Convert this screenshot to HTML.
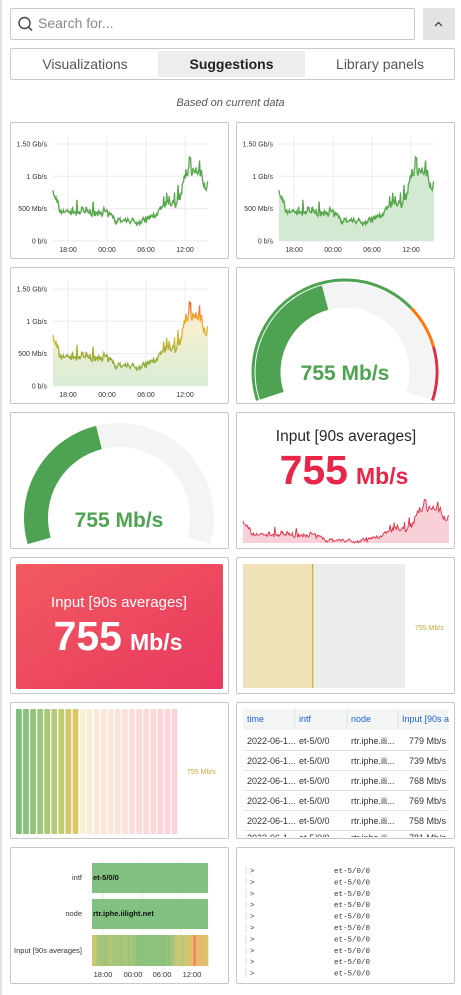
<!DOCTYPE html>
<html><head><meta charset="utf-8">
<style>
*{box-sizing:border-box;margin:0;padding:0}
body{width:461px;height:995px;background:#fff;font-family:"Liberation Sans",Arial,sans-serif;position:relative;overflow:hidden;color:#24292e}
.lb{position:absolute;left:0;top:0;width:2px;height:995px;background:#e4e4e4}
.abs{position:absolute}
.card{position:absolute;width:219px;height:137px;border:1px solid #c7c7c7;border-radius:2px;background:#fff;overflow:hidden}
svg{position:absolute;left:0;top:0}
</style></head><body>
<div class="lb"></div>
<div class="abs" style="left:10px;top:8px;width:405px;height:32px;border:1px solid #c9c9c9;border-radius:2px"></div>
<svg width="461" height="120" style="z-index:2">
<circle cx="24.5" cy="23" r="5.5" fill="none" stroke="#444" stroke-width="1.4"/><line x1="28.5" y1="27" x2="32" y2="30.5" stroke="#444" stroke-width="1.5"/>
<path d="M435 26 L438.5 22.5 L442 26" fill="none" stroke="#333" stroke-width="1.2"/>
</svg>
<div class="abs" style="left:38px;top:15px;font-size:14px;color:#888">Search for...</div>
<div class="abs" style="left:423px;top:8px;width:32px;height:32px;background:#e3e3e3;border-radius:2px"></div>
<div class="abs" style="left:10px;top:48px;width:445px;height:32px;border:1px solid #c9c9c9;border-radius:2px"></div>
<div class="abs" style="left:158px;top:51px;width:147px;height:26px;background:#ededed;border-radius:2px"></div>
<div class="abs" style="left:10px;top:56px;width:150px;text-align:center;font-size:14px;color:#555">Visualizations</div>
<div class="abs" style="left:158px;top:56px;width:147px;text-align:center;font-size:14px;font-weight:bold;color:#222">Suggestions</div>
<div class="abs" style="left:305px;top:56px;width:150px;text-align:center;font-size:14px;color:#555">Library panels</div>
<div class="abs" style="left:0;top:97px;width:461px;text-align:center;font-size:11px;font-style:italic;color:#555">Based on current data</div>

<div class="card" style="left:10px;top:122px"></div>
<div class="card" style="left:236px;top:122px"></div>
<div class="card" style="left:10px;top:267px"></div>
<div class="card" style="left:236px;top:267px"></div>
<div class="card" style="left:10px;top:412px"></div>
<div class="card" style="left:236px;top:412px"></div>
<div class="card" style="left:10px;top:557px"></div>
<div class="card" style="left:236px;top:557px"></div>
<div class="card" style="left:10px;top:702px"></div>
<div class="card" style="left:236px;top:702px"></div>
<div class="card" style="left:10px;top:847px"></div>
<div class="card" style="left:236px;top:847px"></div>

<svg id="g" width="461" height="995" font-family="Liberation Sans, Arial, sans-serif">
<defs>
<linearGradient id="hot" gradientUnits="userSpaceOnUse" x1="0" y1="386" x2="0" y2="289">
<stop offset="0" stop-color="#73bf69"/><stop offset="0.3" stop-color="#9bab35"/><stop offset="0.5" stop-color="#d0b72c"/><stop offset="0.68" stop-color="#f5a623"/><stop offset="0.85" stop-color="#f2642a"/><stop offset="1" stop-color="#e02f44"/></linearGradient>
<linearGradient id="hotf" gradientUnits="userSpaceOnUse" x1="0" y1="386" x2="0" y2="289">
<stop offset="0" stop-color="#d8ecd6"/><stop offset="0.6" stop-color="#f5f0d0"/><stop offset="1" stop-color="#fbe6d3"/></linearGradient>
<linearGradient id="red" x1="0" y1="0" x2="1" y2="1"><stop offset="0" stop-color="#f25a5f"/><stop offset="1" stop-color="#e8395f"/></linearGradient>
<clipPath id="tc"><rect x="237" y="703" width="217" height="134"/></clipPath>
</defs>
<g id="charts"></g>

<g id="gauge1"></g>
<text x="345" y="380" text-anchor="middle" font-size="21" font-weight="bold" fill="#4ea352">755 Mb/s</text>
<g id="gauge2"></g>
<text x="119" y="527" text-anchor="middle" font-size="21" font-weight="bold" fill="#4ea352">755 Mb/s</text>

<text x="346" y="441" text-anchor="middle" font-size="15.5" fill="#24292e">Input [90s averages]</text>
<text x="348" y="484" text-anchor="end" font-size="41" font-weight="bold" fill="#e8264a">755</text>
<text x="356" y="484" font-size="23" font-weight="bold" fill="#e8264a">Mb/s</text>

<rect x="16" y="564" width="207" height="125" rx="2" fill="url(#red)"/>
<text x="119" y="607" text-anchor="middle" font-size="15" fill="#fff">Input [90s averages]</text>
<text x="122" y="650" text-anchor="end" font-size="41" font-weight="bold" fill="#fff">755</text>
<text x="130" y="650" font-size="23" font-weight="bold" fill="#fff">Mb/s</text>

<rect x="243" y="564" width="70" height="124" fill="#efe2b8"/>
<rect x="313" y="564" width="92" height="124" fill="#ececec"/>
<rect x="312" y="564" width="1.3" height="124" fill="#d4b23a"/>
<text x="415" y="630" font-size="7" fill="#c9a93a">755 Mb/s</text>

<g id="lcd"></g>
<text x="187" y="774" font-size="7" fill="#c9a93a">755 Mb/s</text>

<g clip-path="url(#tc)">
<rect x="243" y="709" width="205" height="21" fill="#f4f5f5"/>
<g font-size="9" fill="#1f62e0">
<text x="247" y="722">time</text><text x="299" y="722">intf</text><text x="351" y="722">node</text><text x="402" y="722">Input [90s a</text>
</g>
<g stroke="#e4e4e4" stroke-width="1">
<line x1="295" y1="709" x2="295" y2="730"/><line x1="347" y1="709" x2="347" y2="730"/><line x1="398" y1="709" x2="398" y2="730"/>
<line x1="243" y1="750.5" x2="448" y2="750.5"/><line x1="243" y1="770.5" x2="448" y2="770.5"/><line x1="243" y1="790.5" x2="448" y2="790.5"/><line x1="243" y1="810.5" x2="448" y2="810.5"/><line x1="243" y1="830.5" x2="448" y2="830.5"/>
</g>
<g id="tbl" font-size="9" fill="#333"></g>
</g>

<g stroke="#ececec"><line x1="103" y1="860" x2="103" y2="968"/><line x1="142" y1="860" x2="142" y2="968"/><line x1="181" y1="860" x2="181" y2="968"/></g>
<rect x="92" y="863" width="116" height="30" fill="#81c181"/>
<rect x="92" y="899" width="116" height="30" fill="#81c181"/>
<g id="heat"></g>
<g font-size="7.5" fill="#333">
<text x="82" y="880" text-anchor="end">intf</text>
<text x="82" y="916" text-anchor="end">node</text>
<text x="82" y="953" text-anchor="end">Input [90s averages]</text>
<text x="93" y="880" font-weight="bold" fill="#111">et-5/0/0</text>
<text x="93" y="916" font-weight="bold" fill="#111">rtr.iphe.iilight.net</text>
<text x="103" y="977" text-anchor="middle">18:00</text><text x="133" y="977" text-anchor="middle">00:00</text><text x="162" y="977" text-anchor="middle">06:00</text><text x="192" y="977" text-anchor="middle">12:00</text>
</g>
<g id="logs" font-size="7.5" font-family="Liberation Mono, monospace" fill="#333"></g>
</svg>

<script>
var NS="http://www.w3.org/2000/svg";
function el(p,t,a){var e=document.createElementNS(NS,t);for(var k in a)e.setAttribute(k,a[k]);p.appendChild(e);return e;}
var seed=7;function rnd(){seed=(seed*16807)%2147483647;return seed/2147483647;}
var keys=[[0,0.8],[0.04,0.47],[0.3,0.42],[0.32,0.5],[0.36,0.38],[0.45,0.32],[0.6,0.3],[0.66,0.42],[0.75,0.55],[0.8,0.62],[0.83,0.75],[0.86,1.15],[0.88,1.2],[0.92,1.0],[0.96,0.92],[1,0.85]];
function base(t){for(var i=1;i<keys.length;i++){if(t<=keys[i][0]){var a=keys[i-1],b=keys[i];return a[1]+(b[1]-a[1])*(t-a[0])/(b[0]-a[0]);}}return 0.85;}
var N=260,D=[],w=0;
for(var i=0;i<N;i++){var t=i/(N-1);w=w*0.7+(rnd()-0.5)*0.12;var v=base(t)*(1+w*1.2)+(rnd()-0.5)*0.08*(0.5+base(t));if(rnd()<0.05)v+=rnd()*0.4*base(t);D.push(v);}
var g=document.getElementById('charts');
var C="#56a64b";
function chart(ox,oy,mode){
 var labs=["1.50 Gb/s","1 Gb/s","500 Mb/s","0 b/s"];
 for(var j=0;j<4;j++){var y=oy+22+j*32.3;el(g,'line',{x1:ox+43,x2:ox+198,y1:y,y2:y,stroke:'#ececec'});var tx=el(g,'text',{x:ox+37,y:y+2.5,'font-size':7,'text-anchor':'end',fill:'#333'});tx.textContent=labs[j];}
 var xs=[58,97,136,175],xl=["18:00","00:00","06:00","12:00"];
 for(j=0;j<4;j++){el(g,'line',{x1:ox+xs[j],x2:ox+xs[j],y1:oy+14,y2:oy+119,stroke:'#ececec'});var tx=el(g,'text',{x:ox+xs[j],y:oy+130,'font-size':7,'text-anchor':'middle',fill:'#333'});tx.textContent=xl[j];}
 var x0=ox+43,x1=ox+198,y0=oy+119,h=97;var d="";
 for(var i=0;i<N;i++){var x=x0+(x1-x0)*i/(N-1),y=y0-h*Math.min(D[i],1.5)/1.5;d+=(i?"L":"M")+x.toFixed(1)+" "+y.toFixed(1);}
 if(mode>0)el(g,'path',{d:d+"L"+x1+" "+y0+"L"+x0+" "+y0+"Z",fill:mode==2?'url(#hotf)':'#d3e9d1'});
 el(g,'path',{d:d,fill:'none',stroke:mode==2?'url(#hot)':C,'stroke-width':1.3});
}
chart(10,122,0);chart(236,122,1);chart(10,267,2);
(function(){var x0=243,x1=449,y0=543,h=50;var d="";for(var i=0;i<N;i++){var x=x0+(x1-x0)*i/(N-1),y=y0-h*Math.max(0,D[i]-0.25)/1.2;d+=(i?"L":"M")+x.toFixed(1)+" "+y.toFixed(1);}
el(g,'path',{d:d+"L"+x1+" "+y0+"L"+x0+" "+y0+"Z",fill:'#f9d0d7'});el(g,'path',{d:d,fill:'none',stroke:'#e02f44','stroke-width':0.9});})();
function arc(p,cx,cy,r,a1,a2,col,w){var r1=a1*Math.PI/180,r2=a2*Math.PI/180;var x1=cx+r*Math.sin(r1),y1=cy-r*Math.cos(r1),x2=cx+r*Math.sin(r2),y2=cy-r*Math.cos(r2);el(p,'path',{d:"M"+x1+" "+y1+"A"+r+" "+r+" 0 "+((a2-a1)>180?1:0)+" 1 "+x2+" "+y2,fill:'none',stroke:col,'stroke-width':w});}
var g1=document.getElementById('gauge1');
arc(g1,345,372,77,-108,108,'#f3f4f4',25);arc(g1,345,372,77,-108,-15,'#4ea352',25);
arc(g1,345,372,92,-108,46,'#4ea352',3);arc(g1,345,372,92,46,74,'#ff780a',3);arc(g1,345,372,92,74,108,'#e02f44',3);
var g2=document.getElementById('gauge2');
arc(g2,119,518,83,-106,106,'#f3f4f4',24);arc(g2,119,518,83,-106,-14,'#4ea352',24);
var lc=document.getElementById('lcd');
var on=["#6db86a","#79bb6c","#86bd6c","#94c06b","#a1c26a","#afc468","#bdc563","#cbc45c","#d7c15a"];
var off=["#f7efd6","#f8ecd6","#f9e9d7","#fae7d8","#fbe4d8","#fbe2d9","#fcdfd9","#fcddda","#fcdadb","#fcd8da","#fcd6d9","#fbd5d8","#fbd4d7","#fbd3d6"];
for(var i=0;i<23;i++){el(lc,'rect',{x:16+i*7.07,y:709,width:5.8,height:125,rx:1,fill:i<9?on[i]:off[i-9],opacity:i<9?0.9:1});}
var tb=document.getElementById('tbl');var vals=["779","739","768","769","758","781"];
for(var r=0;r<6;r++){var y=744+r*20+(r==5?-3:0);var t;
t=el(tb,'text',{x:247,y:y});t.textContent="2022-06-1...";
t=el(tb,'text',{x:299,y:y});t.textContent="et-5/0/0";
t=el(tb,'text',{x:351,y:y});t.textContent="rtr.iphe.ili...";
t=el(tb,'text',{x:446,y:y,'text-anchor':'end'});t.textContent=vals[r]+" Mb/s";}
var hm=document.getElementById('heat');
function hcol(v){if(v>1.2)return '#ef7a68';if(v>0.95)return '#e9b96a';if(v>0.75)return '#dcc26c';if(v>0.55)return '#c4c875';if(v>0.42)return '#a9c579';return '#8cc17c';}
for(var i=0;i<N;i+=2){el(hm,'rect',{x:92+116*i/N,y:935,width:116*2/N+0.3,height:31,fill:hcol(D[i])});}
var lg=document.getElementById('logs');
for(var i=0;i<10;i++){var y=873+i*11.4;el(lg,'line',{x1:246,x2:246,y1:y-7,y2:y+2,stroke:'#ddd'});var t=el(lg,'text',{x:250,y:y});t.textContent=">";t=el(lg,'text',{x:334,y:y});t.textContent="et-5/0/0";}
</script>
</body></html>
